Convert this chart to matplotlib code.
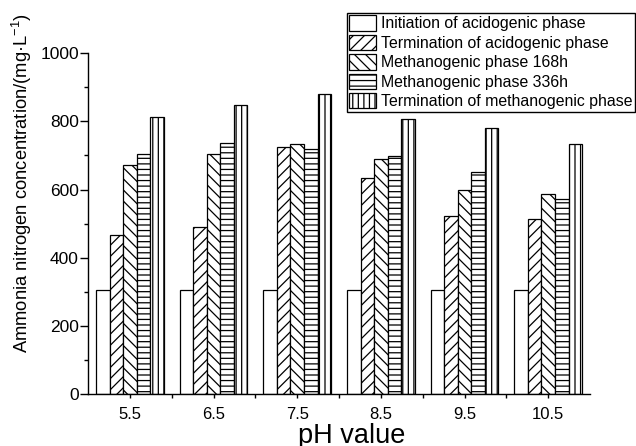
#!/usr/bin/env python3
"""Grouped hatched bar chart of ammonia nitrogen concentration by pH."""

import matplotlib
matplotlib.use('Agg')
from matplotlib import pyplot as plt, rc
from matplotlib.ticker import MultipleLocator
import numpy as np

ph_labels = ['5.5', '6.5', '7.5', '8.5', '9.5', '10.5']
series_names = ['Initiation of acidogenic phase',
                'Termination of acidogenic phase',
                'Methanogenic phase 168h',
                'Methanogenic phase 336h',
                'Termination of methanogenic phase']
acid_start = [305, 305, 305, 305, 305, 305]
acid_end = [467, 490, 726, 633, 523, 514]
meth_168h = [672, 705, 734, 690, 599, 588]
meth_336h = [705, 735, 720, 697, 651, 572]
meth_end = [812, 848, 880, 806, 779, 734]
hatches = ['', '///', '\\\\\\', '---', '|||']


def main():
    rc('font', family=['Liberation Sans', 'DejaVu Sans'])
    rc('mathtext', fontset='custom', rm='Liberation Sans',
       it='Liberation Sans:italic', default='regular')
    rc('hatch', linewidth=0.9)

    fig = plt.figure(figsize=(6.36, 4.46), dpi=100)
    ax = fig.add_axes([0.1384, 0.1159, 0.7893, 0.7653])

    series = [acid_start, acid_end, meth_168h, meth_336h, meth_end]
    x = np.arange(len(ph_labels))
    width = 0.162
    for j, (vals, name, h) in enumerate(zip(series, series_names, hatches)):
        ax.bar(x + (j - 2) * width, vals, width, facecolor='white',
               edgecolor='black', linewidth=0.9, hatch=h, label=name)

    ax.set_xlim(-0.5, 5.5)
    ax.set_ylim(0, 1000)
    ax.set_xticks(x)
    ax.set_xticklabels(ph_labels)
    ax.set_xticks(x[:-1] + 0.5, minor=True)
    ax.yaxis.set_major_locator(MultipleLocator(200))
    ax.yaxis.set_minor_locator(MultipleLocator(100))
    ax.tick_params(axis='y', which='major', length=5.5, width=1, pad=1,
                   labelsize=12.5)
    ax.tick_params(axis='y', which='minor', length=3, width=1)
    ax.tick_params(axis='x', which='both', length=3, width=1, pad=6,
                   labelsize=12)
    for side in ['top', 'right']:
        ax.spines[side].set_visible(False)
    for side in ['left', 'bottom']:
        ax.spines[side].set_linewidth(1)

    ax.set_xlabel('pH value', fontsize=19.5)
    ax.xaxis.set_label_coords(0.525, -0.083)
    ax.set_ylabel('Ammonia nitrogen concentration/(mg\u00b7L$^{-1}$)',
                  fontsize=13.2)
    ax.yaxis.set_label_coords(-0.107, 0.62)

    leg = ax.legend(loc='upper right', bbox_to_anchor=(635 / 636, 1 - 13 / 446),
                    bbox_transform=fig.transFigure, fontsize=11.4,
                    frameon=True, fancybox=False, edgecolor='black',
                    framealpha=1, borderpad=0.15, borderaxespad=0,
                    labelspacing=0.22, handlelength=1.7, handleheight=1.1,
                    handletextpad=0.3)
    leg.get_frame().set_linewidth(1)

    plt.savefig('out.png', dpi=100)


if __name__ == '__main__':
    main()
